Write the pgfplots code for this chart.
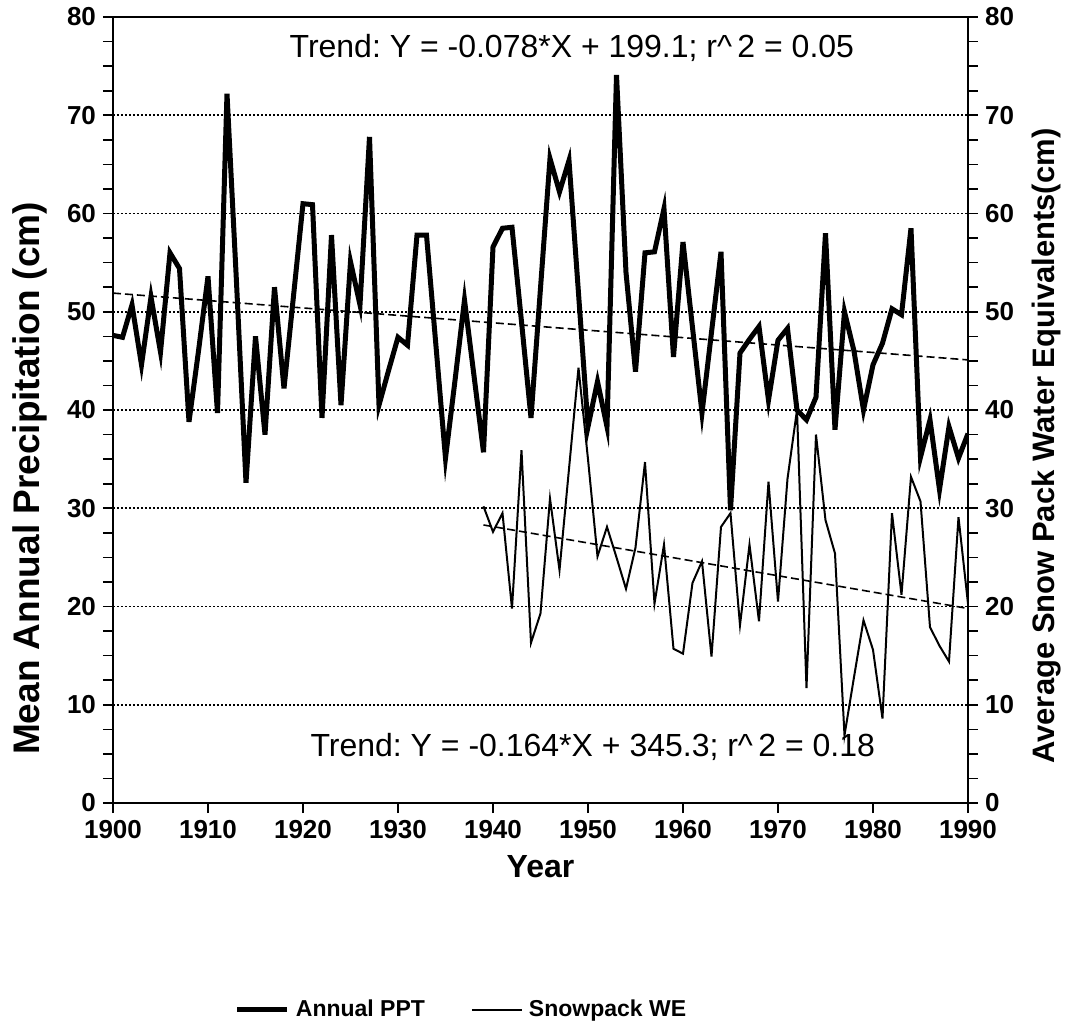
\documentclass[border=0pt]{standalone}
\usepackage{pgfplots}
\pgfplotsset{compat=1.18}
\usepackage{fontspec}
\setmainfont{Liberation Sans}
\frenchspacing

% Annual precipitation (cm), 1900-1990
\pgfplotstableread{
year ppt
1900 47.6
1901 47.4
1902 50.7
1903 44.6
1904 51.5
1905 45.9
1906 56.0
1907 54.4
1908 38.8
1909 46.0
1910 53.6
1911 39.7
1912 72.2
1913 53.0
1914 32.6
1915 47.5
1916 37.5
1917 52.5
1918 42.2
1919 51.6
1920 61.0
1921 60.9
1922 39.2
1923 57.8
1924 40.5
1925 55.1
1926 50.7
1927 67.8
1928 40.5
1929 44.0
1930 47.4
1931 46.6
1932 57.8
1933 57.8
1934 46.5
1935 35.1
1936 43.0
1937 51.2
1938 43.5
1939 35.7
1940 56.6
1941 58.5
1942 58.6
1943 49.0
1944 39.2
1945 52.4
1946 65.6
1947 62.2
1948 65.4
1949 51.9
1950 38.3
1951 42.9
1952 38.3
1953 74.1
1954 54.0
1955 43.9
1956 56.0
1957 56.1
1958 60.5
1959 45.4
1960 57.1
1961 48.4
1962 39.7
1963 47.9
1964 56.1
1965 29.8
1966 45.8
1967 47.2
1968 48.5
1969 41.0
1970 47.1
1971 48.3
1972 40.0
1973 39.0
1974 41.3
1975 58.0
1976 38.0
1977 50.0
1978 46.0
1979 40.0
1980 44.6
1981 46.8
1982 50.3
1983 49.7
1984 58.5
1985 35.2
1986 39.0
1987 31.9
1988 38.3
1989 35.1
1990 37.6
}\ppttable

% Average snow pack water equivalents (cm), 1939-1990
\pgfplotstableread{
year swe
1939 30.2
1940 27.6
1941 29.5
1942 19.8
1943 35.9
1944 16.3
1945 19.3
1946 31.0
1947 23.7
1948 34.0
1949 44.3
1950 35.0
1951 25.1
1952 28.1
1953 25.0
1954 21.8
1955 26.0
1956 34.7
1957 20.3
1958 26.3
1959 15.7
1960 15.2
1961 22.4
1962 24.6
1963 14.9
1964 28.1
1965 29.5
1966 18.1
1967 26.3
1968 18.5
1969 32.7
1970 20.5
1971 33.0
1972 40.0
1973 11.7
1974 37.5
1975 28.8
1976 25.4
1977 6.9
1978 12.8
1979 18.6
1980 15.6
1981 8.6
1982 29.5
1983 21.2
1984 33.2
1985 30.7
1986 17.9
1987 16.0
1988 14.4
1989 29.1
1990 20.3
}\swetable

\pgfplotsset{
  common/.style={
    scale only axis, width=427.5pt, height=393pt,
    xmin=1900, xmax=1990, ymin=0, ymax=80,
    ytick={0,10,...,80}, minor y tick num=3,
    tick align=outside,
    major tick length=5pt, minor tick length=5pt,
    every tick/.style={line width=0.8pt, black},
    axis line style={line width=1pt},
    /pgf/number format/assume math mode=true,
    tick label style={font=\bfseries\fontsize{13}{13}\selectfont},
  }
}

\begin{document}
\begin{tikzpicture}
\path[use as bounding box] (-56.5pt,-111pt) rectangle (480.5pt,401.5pt);
\begin{axis}[
  common,
  xtick={1900,1910,...,1990},
  xtick pos=bottom, ytick pos=left,
  x tick label style={/pgf/number format/1000 sep={}},
  ymajorgrids,
  grid style={dash pattern=on 0.9pt off 1.1pt, line width=0.9pt, black},
  xlabel={Year},
  xlabel style={font=\bfseries\fontsize{16}{16}\selectfont,
    at={(axis description cs:0.5,0)}, anchor=center, yshift=-32pt},
  ylabel={Mean Annual Precipitation (cm)},
  ylabel style={font=\bfseries\fontsize{18.5}{18.5}\selectfont,
    at={(axis description cs:-0.097,0.413)}, anchor=center, rotate=0},
  legend style={at={(axis description cs:0.41,-0.263)}, anchor=center,
    draw=none, fill=none, legend columns=2,
    font=\bfseries\fontsize{11.5}{11.5}\selectfont,
    /tikz/every odd column/.append style={column sep=0pt},
    /tikz/every even column/.append style={column sep=20pt},
    /tikz/every node/.append style={inner xsep=3pt}},
  legend image code/.code={\draw[#1] (0pt,0pt) -- (25pt,0pt);},
]
\addplot[black, line width=2.5pt] table[x=year, y=ppt] {\ppttable};
\addlegendentry{Annual PPT}
\addplot[black, line width=1pt] table[x=year, y=swe] {\swetable};
\addlegendentry{Snowpack WE}
% fitted trends
\addplot[forget plot, black, line width=0.8pt, dash pattern=on 4pt off 2pt]
  coordinates {(1900,51.9) (1990,45.1)};
\addplot[forget plot, black, line width=0.8pt, dash pattern=on 4pt off 2pt]
  coordinates {(1939,28.3) (1990,19.8)};
\node[font=\fontsize{16}{16}\selectfont] at (axis cs:1948.3,76.9)
  {Trend: Y = -0.078*X + 199.1; r\textasciicircum\,2 = 0.05};
\node[font=\fontsize{16}{16}\selectfont] at (axis cs:1950.5,5.7)
  {Trend: Y = -0.164*X + 345.3; r\textasciicircum\,2 = 0.18};
\end{axis}
\begin{axis}[
  common,
  axis x line=none,
  axis y line*=right,
  ylabel={Average Snow Pack Water Equivalents(cm)},
  ylabel style={font=\bfseries\fontsize{15.5}{15.5}\selectfont,
    at={(axis description cs:1.092,0.454)}, anchor=center, rotate=0},
]
\addplot[draw=none] coordinates {(1900,0)};
\end{axis}
\end{tikzpicture}
\end{document}
